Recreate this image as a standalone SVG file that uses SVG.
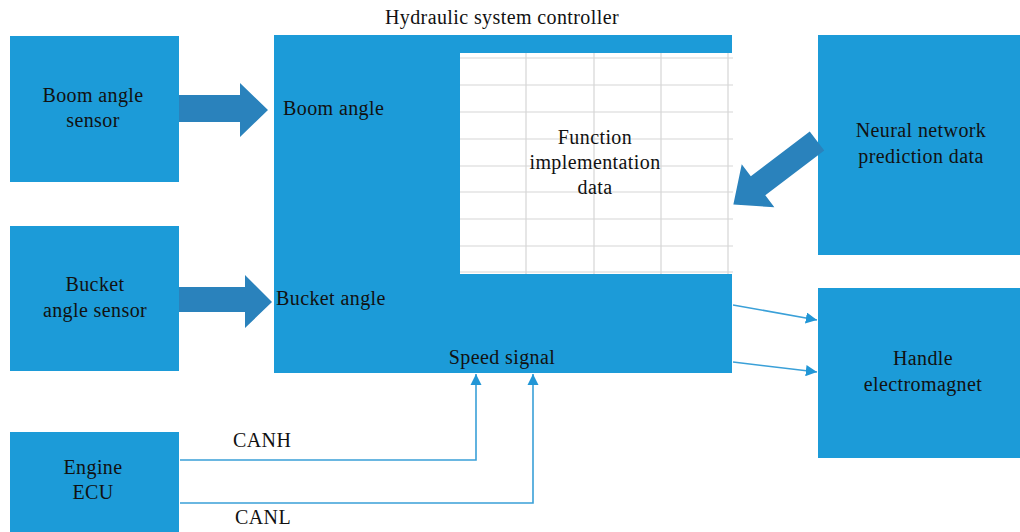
<svg xmlns="http://www.w3.org/2000/svg" width="1020" height="532" viewBox="0 0 1020 532">
  <style>
    .box { fill: #1c9bd8; }
    .lbl { font-family: "Liberation Serif", "Times New Roman", serif; font-size: 20px; letter-spacing: 0.4px; fill: #111; }
    .mid { text-anchor: middle; }
    .grid { stroke: #d6d6d6; stroke-width: 1.2; fill: none; }
    .fat { fill: #2a82bc; }
    .wire { stroke: #3aa0d8; stroke-width: 1.6; fill: none; }
  </style>
  <defs>
    <marker id="tri" viewBox="0 0 10 10" refX="10" refY="5" markerWidth="7" markerHeight="7" orient="auto" markerUnits="strokeWidth">
      <path d="M0,0 L10,5 L0,10 Z" fill="#2196d6"/>
    </marker>
  </defs>
  <rect width="1020" height="532" fill="#ffffff"/>

  <!-- controller with lookup table -->
  <g id="controller">
    <rect class="box" x="274" y="35" width="458" height="338"/>
    <rect x="460" y="53" width="273" height="221" fill="#ffffff"/>
    <g class="grid">
      <line x1="460" y1="58" x2="733" y2="58"/>
      <line x1="460" y1="85" x2="733" y2="85"/>
      <line x1="460" y1="112" x2="733" y2="112"/>
      <line x1="460" y1="139" x2="733" y2="139"/>
      <line x1="460" y1="166" x2="733" y2="166"/>
      <line x1="460" y1="192" x2="733" y2="192"/>
      <line x1="460" y1="219" x2="733" y2="219"/>
      <line x1="460" y1="246" x2="733" y2="246"/>
      <line x1="460" y1="272" x2="733" y2="272"/>
      <line x1="526" y1="53" x2="526" y2="274"/>
      <line x1="594" y1="53" x2="594" y2="274"/>
      <line x1="661" y1="53" x2="661" y2="274"/>
      <line x1="728" y1="53" x2="728" y2="274"/>
    </g>
    <text class="lbl mid" x="502" y="24">Hydraulic system controller</text>
    <text class="lbl" x="283" y="115">Boom angle</text>
    <text class="lbl" x="276" y="305">Bucket angle</text>
    <text class="lbl mid" x="502" y="364">Speed signal</text>
    <text class="lbl mid" x="595" y="144">Function</text>
    <text class="lbl mid" x="595" y="169">implementation</text>
    <text class="lbl mid" x="595" y="194">data</text>
  </g>

  <g id="boom-sensor">
    <rect class="box" x="10" y="36" width="169" height="146"/>
    <text class="lbl mid" x="93" y="102">Boom angle</text>
    <text class="lbl mid" x="93" y="127">sensor</text>
  </g>

  <g id="bucket-sensor">
    <rect class="box" x="10" y="226" width="169" height="145"/>
    <text class="lbl mid" x="95" y="291">Bucket</text>
    <text class="lbl mid" x="95" y="317">angle sensor</text>
  </g>

  <g id="engine-ecu">
    <rect class="box" x="10" y="432" width="169" height="100"/>
    <text class="lbl mid" x="93" y="474">Engine</text>
    <text class="lbl mid" x="93" y="499">ECU</text>
  </g>

  <g id="neural-data">
    <rect class="box" x="818" y="35" width="202" height="220"/>
    <text class="lbl mid" x="921" y="137">Neural network</text>
    <text class="lbl mid" x="921" y="163">prediction data</text>
  </g>

  <g id="handle">
    <rect class="box" x="818" y="288" width="202" height="170"/>
    <text class="lbl mid" x="923" y="365">Handle</text>
    <text class="lbl mid" x="923" y="391">electromagnet</text>
  </g>

  <g id="connectors">
    <!-- block arrows -->
    <path class="fat" d="M179,95 L240,95 L240,83 L268,110 L240,137 L240,122 L179,122 Z"/>
    <path class="fat" d="M179,287 L245,287 L245,275 L272,302 L245,328 L245,312 L179,312 Z"/>
    <path class="fat" transform="translate(817,141) rotate(142.8)" d="M0,-12 L74,-12 L74,-27 L105,0 L74,27 L74,12 L0,12 Z"/>
    <!-- outputs to handle -->
    <line class="wire" x1="733" y1="305" x2="817" y2="320" marker-end="url(#tri)"/>
    <line class="wire" x1="733" y1="362" x2="817" y2="372" marker-end="url(#tri)"/>
    <!-- CAN bus -->
    <polyline class="wire" points="180,460 476,460 476,374" marker-end="url(#tri)"/>
    <polyline class="wire" points="180,503 533,503 533,374" marker-end="url(#tri)"/>
    <text class="lbl" x="233" y="447">CANH</text>
    <text class="lbl" x="235" y="524">CANL</text>
  </g>
</svg>
